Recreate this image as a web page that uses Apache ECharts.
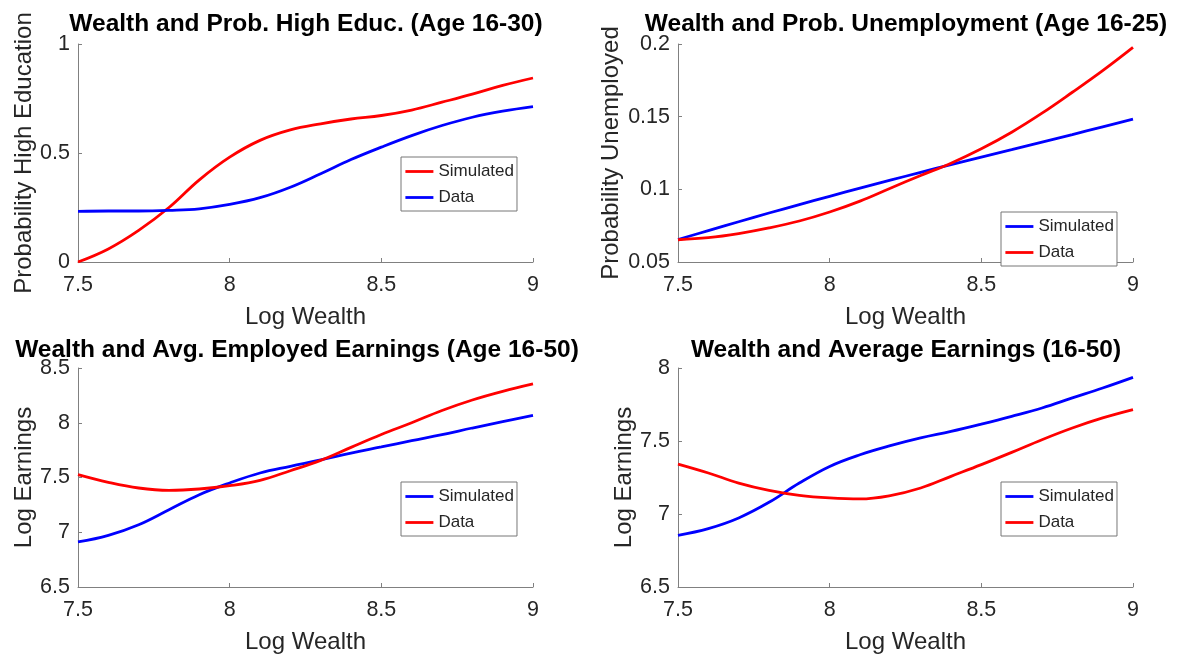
<!DOCTYPE html>
<html><head><meta charset="utf-8">
<script src="https://cdn.jsdelivr.net/npm/echarts@6/dist/echarts.min.js"></script>
<style>html,body{margin:0;padding:0;background:#fff}#c{width:1181px;height:656px}</style>
</head><body><div id="c"></div>
<script>
// x values (Log Wealth)
const logWealth = [7.5, 7.6, 7.7, 7.8, 7.9, 8.0, 8.1, 8.2, 8.3, 8.4, 8.5, 8.6, 8.7, 8.8, 8.9, 9.0];

// Panel 1: Wealth and Prob. High Educ. (Age 16-30)
const educSimulated = [0.000, 0.060, 0.145, 0.250, 0.377, 0.481, 0.558, 0.606, 0.634, 0.656, 0.672, 0.697, 0.733, 0.770, 0.810, 0.844];
const educData      = [0.232, 0.234, 0.234, 0.237, 0.244, 0.264, 0.295, 0.343, 0.405, 0.470, 0.527, 0.580, 0.626, 0.664, 0.692, 0.713];

// Panel 2: Wealth and Prob. Unemployment (Age 16-25)
const unempSimulated = [0.0655, 0.0716, 0.0777, 0.0837, 0.0895, 0.0952, 0.1008, 0.1063, 0.1117, 0.1170, 0.1222, 0.1273, 0.1325, 0.1377, 0.1430, 0.1483];
const unempData      = [0.0653, 0.0667, 0.0695, 0.0734, 0.0782, 0.0844, 0.0919, 0.1008, 0.1095, 0.1180, 0.1279, 0.1393, 0.1524, 0.1668, 0.1817, 0.1977];

// Panel 3: Wealth and Avg. Employed Earnings (Age 16-50)
const empEarnSimulated = [6.911, 6.972, 7.069, 7.206, 7.343, 7.450, 7.541, 7.602, 7.660, 7.723, 7.779, 7.836, 7.891, 7.952, 8.010, 8.068];
const empEarnData      = [7.526, 7.456, 7.404, 7.383, 7.395, 7.425, 7.474, 7.562, 7.656, 7.775, 7.892, 8.000, 8.112, 8.208, 8.287, 8.354];

// Panel 4: Wealth and Average Earnings (16-50)
const avgEarnSimulated = [6.854, 6.900, 6.973, 7.080, 7.212, 7.326, 7.406, 7.468, 7.521, 7.566, 7.616, 7.669, 7.726, 7.795, 7.863, 7.936];
const avgEarnData      = [7.342, 7.281, 7.212, 7.162, 7.128, 7.110, 7.103, 7.126, 7.178, 7.258, 7.338, 7.422, 7.509, 7.589, 7.658, 7.715];

const titles = [
  'Wealth and Prob. High Educ. (Age 16-30)',
  'Wealth and Prob. Unemployment (Age 16-25)',
  'Wealth and Avg. Employed Earnings (Age 16-50)',
  'Wealth and Average Earnings (16-50)'
];
const yNames = ['Probability High Education', 'Probability Unemployed', 'Log Earnings', 'Log Earnings'];
const xName = 'Log Wealth';
const yMin = [0, 0.05, 6.5, 6.5];
const yMax = [1, 0.2, 8.5, 8];
const yStep = [0.5, 0.05, 0.5, 0.5];
const xMin = 7.5, xMax = 9, xStep = 0.5;

const RED = '#ff0000', BLUE = '#0000ff';
const panelSeries = [
  [{ label: 'Simulated', values: educSimulated, color: RED }, { label: 'Data', values: educData, color: BLUE }],
  [{ label: 'Simulated', values: unempSimulated, color: BLUE }, { label: 'Data', values: unempData, color: RED }],
  [{ label: 'Simulated', values: empEarnSimulated, color: BLUE }, { label: 'Data', values: empEarnData, color: RED }],
  [{ label: 'Simulated', values: avgEarnSimulated, color: BLUE }, { label: 'Data', values: avgEarnData, color: RED }]
];

const grids = [
  { left: 78, top: 44, width: 455, height: 218 },
  { left: 678, top: 44, width: 455, height: 218 },
  { left: 78, top: 368, width: 455, height: 219 },
  { left: 678, top: 368, width: 455, height: 219 }
];
const titlePos = [[306, 12], [906, 12], [297, 338], [906, 338]];
const legendPos = [[401, 157], [1001, 212], [401, 482], [1001, 482]];
const yNameGap = [42, 55, 42, 42];

const FONT = '"Liberation Sans", Arial, sans-serif';
const TXT = '#262626';
const AX = '#808080';

const option = {
  animation: false,
  backgroundColor: '#fff',
  title: titles.map((t, i) => ({
    text: t, left: titlePos[i][0], top: titlePos[i][1], textAlign: 'center', padding: 0,
    textStyle: { fontFamily: FONT, fontWeight: 'bold', fontSize: 24.5, color: '#000' }
  })),
  grid: grids.map(g => Object.assign({ containLabel: false }, g)),
  xAxis: grids.map((g, i) => ({
    type: 'value', gridIndex: i, min: xMin, max: xMax, interval: xStep,
    name: xName, nameLocation: 'middle', nameGap: 43,
    nameTextStyle: { fontFamily: FONT, fontSize: 24, color: TXT },
    axisLine: { show: true, lineStyle: { color: AX, width: 1 } },
    axisTick: { show: true, inside: true, length: 4, lineStyle: { color: AX } },
    axisLabel: { fontFamily: FONT, fontSize: 21.5, color: TXT, margin: 12 },
    splitLine: { show: false }
  })),
  yAxis: grids.map((g, i) => ({
    type: 'value', gridIndex: i, min: yMin[i], max: yMax[i], interval: yStep[i],
    name: yNames[i], nameLocation: 'middle', nameGap: yNameGap[i],
    nameTextStyle: { fontFamily: FONT, fontSize: 24, color: TXT },
    axisLine: { show: true, lineStyle: { color: AX, width: 1 } },
    axisTick: { show: true, inside: true, length: 4, lineStyle: { color: AX } },
    axisLabel: { fontFamily: FONT, fontSize: 21.5, color: TXT, margin: 8 },
    splitLine: { show: false }
  })),
  legend: panelSeries.map((ps, i) => ({
    orient: 'vertical', left: legendPos[i][0], top: legendPos[i][1],
    data: ps.map(s => s.label + '#' + i),
    formatter: n => n.split('#')[0],
    itemWidth: 28, itemHeight: 14, itemGap: 9, itemTextGap: 2,
    padding: [6, 3, 5, 3],
    borderColor: '#777', borderWidth: 1, backgroundColor: '#fff',
    itemStyle: { opacity: 0 },
    lineStyle: { width: 2.8 },
    textStyle: { fontFamily: FONT, fontSize: 17, color: TXT },
    selectedMode: false
  })),
  series: []
};

panelSeries.forEach((ps, i) => {
  ps.forEach(s => {
    option.series.push({
      type: 'line', name: s.label + '#' + i, xAxisIndex: i, yAxisIndex: i,
      data: logWealth.map((x, k) => [x, s.values[k]]),
      smooth: 0.4, symbol: 'none',
      lineStyle: { color: s.color, width: 2.8 },
      itemStyle: { color: s.color }
    });
  });
});

const chart = echarts.init(document.getElementById('c'), null, { renderer: 'canvas' });
chart.setOption(option);
</script>
</body></html>
